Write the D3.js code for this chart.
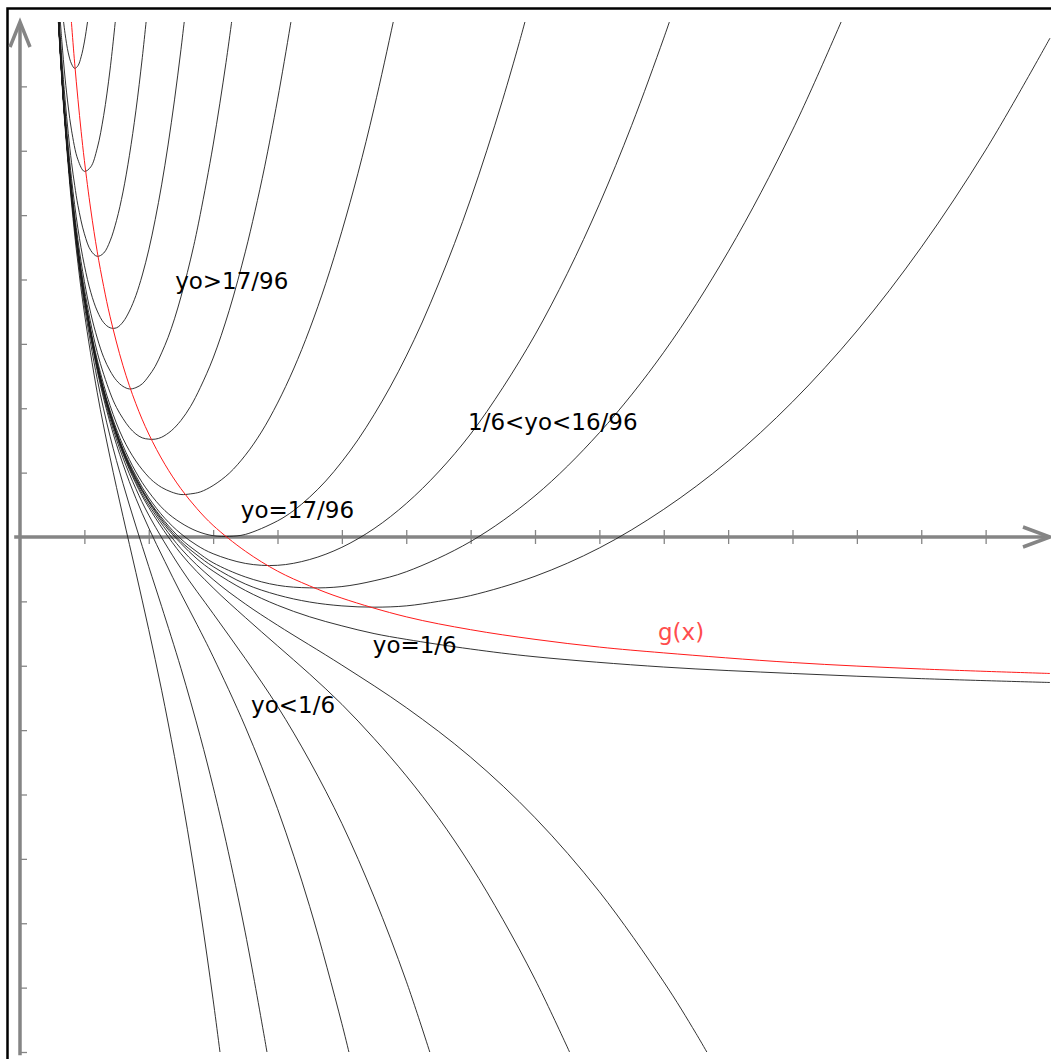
<!DOCTYPE html>
<html>
<head>
<meta charset="utf-8">
<script src="https://cdn.jsdelivr.net/npm/d3@7"></script>
<style>
  html, body { margin: 0; padding: 0; background: #fff; }
  svg { display: block; }
</style>
</head>
<body>
<script>
// values are in tick units (1 tick = 1)
const xTicks = [1, 2, 3, 4, 5, 6, 7, 8, 9, 10, 11, 12, 13, 14, 15];
const yTicks = [-8, -7, -6, -5, -4, -3, -2, -1, 1, 2, 3, 4, 5, 6, 7];

// yo > 17/96 : curves with a minimum
const curveU1 = [[0.66,8.15],[0.70,7.82],[0.75,7.52],[0.80,7.35],[0.85,7.28],[0.90,7.32],[0.95,7.46],[1.00,7.69],[1.05,8.01],[1.07,8.16]];
const curveU2 = [[0.62,8.10],[0.65,7.70],[0.70,7.13],[0.75,6.68],[0.80,6.32],[0.90,5.86],[1.00,5.68],[1.10,5.75],[1.20,6.04],[1.30,6.55],[1.40,7.27],[1.50,8.20]];
const curveU3 = [[0.60,8.19],[0.65,7.43],[0.70,6.80],[0.75,6.27],[0.80,5.82],[0.85,5.46],[0.90,5.15],[1.00,4.71],[1.10,4.45],[1.20,4.36],[1.30,4.41],[1.40,4.60],[1.50,4.92],[1.60,5.36],[1.70,5.93],[1.80,6.62],[1.90,7.45],[2.00,8.40]];
const curveU4 = [[0.60,8.08],[0.65,7.30],[0.70,6.63],[0.80,5.57],[0.90,4.79],[1.00,4.22],[1.10,3.80],[1.20,3.51],[1.30,3.33],[1.40,3.25],[1.50,3.25],[1.60,3.34],[1.70,3.51],[1.80,3.75],[1.90,4.07],[2.00,4.46],[2.10,4.93],[2.20,5.47],[2.30,6.09],[2.40,6.79],[2.50,7.57],[2.60,8.43]];
const curveU5 = [[0.59,8.21],[0.65,7.23],[0.70,6.54],[0.80,5.45],[0.90,4.61],[1.00,3.97],[1.10,3.47],[1.20,3.09],[1.30,2.79],[1.40,2.58],[1.50,2.43],[1.60,2.34],[1.70,2.30],[1.80,2.32],[1.90,2.38],[2.00,2.50],[2.10,2.65],[2.20,2.86],[2.30,3.10],[2.40,3.39],[2.50,3.73],[2.60,4.11],[2.70,4.53],[2.80,5.01],[3.00,6.09],[3.20,7.37],[3.35,8.47]];
const curveU6 = [[0.59,8.18],[0.65,7.19],[0.70,6.50],[0.80,5.38],[0.90,4.52],[1.00,3.85],[1.20,2.87],[1.40,2.24],[1.50,2.01],[1.60,1.84],[1.70,1.70],[1.80,1.60],[1.90,1.54],[2.00,1.52],[2.10,1.52],[2.20,1.55],[2.35,1.65],[2.50,1.81],[2.65,2.03],[2.80,2.32],[3.00,2.78],[3.25,3.52],[3.50,4.43],[3.65,5.06],[3.80,5.75],[4.00,6.79],[4.20,7.95],[4.30,8.58]];
const curveU7 = [[0.59,8.17],[0.65,7.17],[0.70,6.48],[0.80,5.35],[0.90,4.47],[1.00,3.77],[1.20,2.75],[1.40,2.04],[1.60,1.53],[1.80,1.18],[2.00,0.93],[2.10,0.84],[2.20,0.77],[2.35,0.70],[2.50,0.66],[2.65,0.67],[2.80,0.70],[3.00,0.80],[3.25,0.99],[3.50,1.27],[3.75,1.63],[4.00,2.08],[4.25,2.61],[4.50,3.23],[4.75,3.94],[5.00,4.75],[5.25,5.65],[5.50,6.66],[5.80,8.01],[5.90,8.49]];
// yo = 17/96 : minimum sits on the x axis
const curveU8 = [[0.59,8.16],[0.65,7.17],[0.70,6.47],[0.80,5.33],[0.90,4.45],[1.00,3.75],[1.20,2.70],[1.40,1.96],[1.60,1.42],[1.80,1.01],[2.00,0.70],[2.25,0.41],[2.50,0.22],[2.75,0.09],[3.00,0.02],[3.25,0.01],[3.50,0.04],[4.00,0.25],[4.25,0.41],[4.50,0.62],[4.75,0.87],[5.00,1.17],[5.25,1.51],[5.50,1.90],[5.75,2.33],[6.00,2.81],[6.25,3.34],[6.50,3.93],[6.75,4.56],[7.00,5.25],[7.25,6.00],[7.50,6.80],[7.75,7.66],[7.90,8.21]];
// 1/6 < yo < 17/96
const curveU9 = [[0.59,8.16],[0.65,7.16],[0.70,6.46],[0.80,5.33],[0.90,4.44],[1.00,3.74],[1.20,2.68],[1.40,1.93],[1.60,1.37],[1.80,0.95],[2.00,0.61],[2.25,0.29],[2.50,0.05],[2.75,-0.13],[3.00,-0.26],[3.50,-0.41],[4.00,-0.44],[4.50,-0.35],[5.00,-0.16],[5.50,0.13],[6.00,0.52],[6.50,1.01],[7.00,1.60],[7.50,2.32],[8.00,3.14],[8.50,4.09],[9.00,5.17],[9.50,6.39],[10.00,7.75],[10.20,8.33]];
const curveU10 = [[0.59,8.16],[0.65,7.16],[0.70,6.46],[0.80,5.32],[0.90,4.44],[1.00,3.73],[1.20,2.67],[1.40,1.92],[1.60,1.35],[1.80,0.92],[2.00,0.57],[2.25,0.24],[2.50,-0.03],[2.75,-0.23],[3.00,-0.40],[3.50,-0.62],[4.00,-0.75],[4.50,-0.79],[5.00,-0.77],[5.50,-0.68],[6.00,-0.54],[7.00,-0.07],[8.00,0.64],[9.00,1.62],[10.00,2.87],[11.00,4.43],[12.00,6.32],[13.00,8.57]];
const curveU11 = [[0.59,8.16],[0.65,7.16],[0.70,6.46],[0.80,5.32],[0.90,4.44],[1.00,3.73],[1.20,2.67],[1.40,1.91],[1.60,1.34],[1.80,0.90],[2.00,0.56],[2.25,0.21],[2.50,-0.07],[2.75,-0.28],[3.00,-0.46],[3.50,-0.73],[4.00,-0.90],[4.50,-1.01],[5.00,-1.07],[5.50,-1.09],[6.00,-1.07],[6.50,-1.00],[7.00,-0.91],[8.00,-0.61],[9.00,-0.17],[10.00,0.43],[11.00,1.18],[12.00,2.10],[13.00,3.20],[14.00,4.50],[15.00,6.01],[16.00,7.75]];
// yo = 1/6
const curveYo = [[0.59,8.16],[0.65,7.16],[0.70,6.46],[0.80,5.32],[0.90,4.43],[1.00,3.73],[1.20,2.66],[1.40,1.90],[1.60,1.33],[1.80,0.89],[2.00,0.54],[2.25,0.18],[2.50,-0.10],[2.75,-0.34],[3.00,-0.53],[3.50,-0.83],[4.00,-1.06],[4.50,-1.24],[5.00,-1.38],[5.50,-1.50],[6.00,-1.59],[7.00,-1.74],[8.00,-1.86],[10.00,-2.02],[12.00,-2.12],[14.00,-2.20],[16.00,-2.26]];
// yo < 1/6 : curves falling away
const curveD1 = [[0.58,8.30],[0.60,7.92],[0.65,7.09],[0.70,6.37],[0.80,5.19],[0.90,4.25],[1.00,3.48],[1.20,2.24],[1.40,1.23],[1.60,0.32],[1.80,-0.55],[2.00,-1.44],[2.20,-2.38],[2.40,-3.41],[2.60,-4.54],[2.80,-5.79],[3.00,-7.19],[3.15,-8.34]];
const curveD2 = [[0.58,8.32],[0.60,7.95],[0.65,7.13],[0.70,6.42],[0.80,5.26],[0.90,4.34],[1.00,3.60],[1.20,2.45],[1.40,1.56],[1.60,0.83],[1.80,0.17],[2.00,-0.46],[2.20,-1.08],[2.50,-2.04],[2.80,-3.10],[3.00,-3.88],[3.20,-4.73],[3.50,-6.15],[3.80,-7.79],[3.90,-8.38]];
const curveD3 = [[0.58,8.34],[0.65,7.15],[0.70,6.44],[0.80,5.30],[0.90,4.40],[1.00,3.68],[1.20,2.58],[1.40,1.77],[1.60,1.13],[1.80,0.60],[2.00,0.14],[2.25,-0.38],[2.50,-0.88],[2.75,-1.36],[3.00,-1.86],[3.50,-2.95],[4.00,-4.22],[4.50,-5.74],[5.00,-7.56],[5.20,-8.38]];
const curveD4 = [[0.58,8.34],[0.65,7.15],[0.70,6.45],[0.80,5.31],[0.90,4.42],[1.00,3.70],[1.20,2.62],[1.40,1.83],[1.60,1.23],[1.80,0.75],[2.00,0.34],[2.50,-0.49],[3.00,-1.19],[3.50,-1.89],[4.00,-2.63],[4.50,-3.48],[5.00,-4.45],[5.50,-5.59],[6.00,-6.90],[6.50,-8.42]];
const curveD5 = [[0.58,8.34],[0.65,7.16],[0.70,6.46],[0.80,5.32],[0.90,4.43],[1.00,3.72],[1.20,2.65],[1.40,1.88],[1.60,1.29],[1.80,0.83],[2.00,0.46],[2.50,-0.26],[3.00,-0.79],[3.50,-1.25],[4.00,-1.69],[4.50,-2.13],[5.00,-2.60],[5.50,-3.13],[6.00,-3.71],[6.50,-4.36],[7.00,-5.10],[7.50,-5.94],[8.00,-6.87],[8.50,-7.92],[8.60,-8.14]];
const curveD6 = [[0.58,8.34],[0.65,7.16],[0.70,6.46],[0.80,5.32],[0.90,4.43],[1.00,3.72],[1.20,2.65],[1.40,1.89],[1.60,1.31],[1.80,0.86],[2.00,0.50],[2.50,-0.18],[3.00,-0.66],[3.50,-1.04],[4.00,-1.37],[5.00,-1.99],[6.00,-2.65],[7.00,-3.42],[8.00,-4.36],[9.00,-5.51],[10.00,-6.91],[10.50,-7.71],[10.80,-8.23]];

// g(x), the red curve through the minima
const curveG = [[0.78,8.25],[0.80,7.98],[0.85,7.35],[0.90,6.80],[0.95,6.30],[1.00,5.85],[1.10,5.08],[1.20,4.43],[1.30,3.89],[1.40,3.42],[1.60,2.66],[1.80,2.07],[2.00,1.60],[2.25,1.13],[2.50,0.75],[2.75,0.44],[3.00,0.18],[3.50,-0.22],[4.00,-0.53],[4.50,-0.76],[5.00,-0.95],[6.00,-1.24],[7.00,-1.44],[8.00,-1.59],[9.00,-1.71],[10.00,-1.80],[12.00,-1.95],[14.00,-2.05],[16.00,-2.12]];

const blackCurves = [curveU1, curveU2, curveU3, curveU4, curveU5, curveU6, curveU7, curveU8,
    curveU9, curveU10, curveU11, curveYo, curveD1, curveD2, curveD3, curveD4, curveD5, curveD6];

const labelText = ["yo>17/96", "1/6<yo<16/96", "yo=17/96", "yo=1/6", "yo<1/6", "g(x)"];
const labelX = [2.41, 6.96, 3.43, 5.48, 3.59, 9.91];
const labelY = [3.85, 1.66, 0.30, -1.80, -2.73, -1.60];

// ------------------------------------------------------------------
const width = 1051, height = 1059;
const axisColor = "#858585";

const x = d3.scaleLinear().domain([0, 16]).range([20, 1050]);
const y = d3.scaleLinear().domain([-8, 8]).range([1052, 22]);

const svg = d3.select("body").append("svg")
    .attr("width", width)
    .attr("height", height);

svg.append("defs").append("clipPath")
    .attr("id", "plot")
    .append("rect")
    .attr("x", x(0))
    .attr("y", y(8))
    .attr("width", x(16) - x(0) + 2)
    .attr("height", y(-8) - y(8));

// frame
svg.append("rect")
    .attr("x", 7.5)
    .attr("y", 8.5)
    .attr("width", 1100)
    .attr("height", 1100)
    .attr("fill", "none")
    .attr("stroke", "#000")
    .attr("stroke-width", 2.5);

// ticks
const gx = svg.append("g")
    .attr("transform", `translate(0,${y(0)})`)
    .call(d3.axisBottom(x).tickValues(xTicks).tickSize(7).tickFormat(""));
gx.select(".domain").remove();
gx.selectAll(".tick line")
    .attr("y1", -7)
    .attr("stroke", axisColor)
    .attr("stroke-width", 1.3);

const gy = svg.append("g")
    .attr("transform", `translate(${x(0)},0)`)
    .call(d3.axisLeft(y).tickValues(yTicks).tickSize(7).tickFormat(""));
gy.select(".domain").remove();
gy.selectAll(".tick line")
    .attr("x2", 7)
    .attr("stroke", axisColor)
    .attr("stroke-width", 1.3);

// axis lines + arrows
const axes = svg.append("g")
    .attr("stroke", axisColor)
    .attr("stroke-width", 3.5)
    .attr("fill", "none");

axes.append("line")
    .attr("x1", x(-0.09)).attr("x2", x(16))
    .attr("y1", y(0)).attr("y2", y(0));
axes.append("line")
    .attr("x1", x(0)).attr("x2", x(0))
    .attr("y1", y(-8.05)).attr("y2", y(8));

axes.append("path")
    .attr("d", `M${x(16) - 27},${y(0) - 10}L${x(16)},${y(0)}L${x(16) - 27},${y(0) + 10}`);
axes.append("path")
    .attr("d", `M${x(0) - 10},${y(8) + 25}L${x(0)},${y(8)}L${x(0) + 10},${y(8) + 25}`);

// curves
const line = d3.line()
    .x(d => x(d[0]))
    .y(d => y(d[1]))
    .curve(d3.curveCatmullRom.alpha(0.5));

const plot = svg.append("g").attr("clip-path", "url(#plot)");

plot.append("g")
    .attr("fill", "none")
    .attr("stroke", "#1c1c1c")
    .attr("stroke-width", 0.9)
    .selectAll("path")
    .data(blackCurves)
    .join("path")
    .attr("d", line);

plot.append("path")
    .datum(curveG)
    .attr("fill", "none")
    .attr("stroke", "#ff1a1a")
    .attr("stroke-width", 1)
    .attr("d", line);

// labels
svg.append("g")
    .attr("font-family", "'DejaVu Sans', sans-serif")
    .attr("font-size", 23)
    .selectAll("text")
    .data(labelText)
    .join("text")
    .attr("x", (d, i) => x(labelX[i]))
    .attr("y", (d, i) => y(labelY[i]))
    .attr("fill", d => d === "g(x)" ? "#ff4d4d" : "#000")
    .text(d => d);
</script>
</body>
</html>
